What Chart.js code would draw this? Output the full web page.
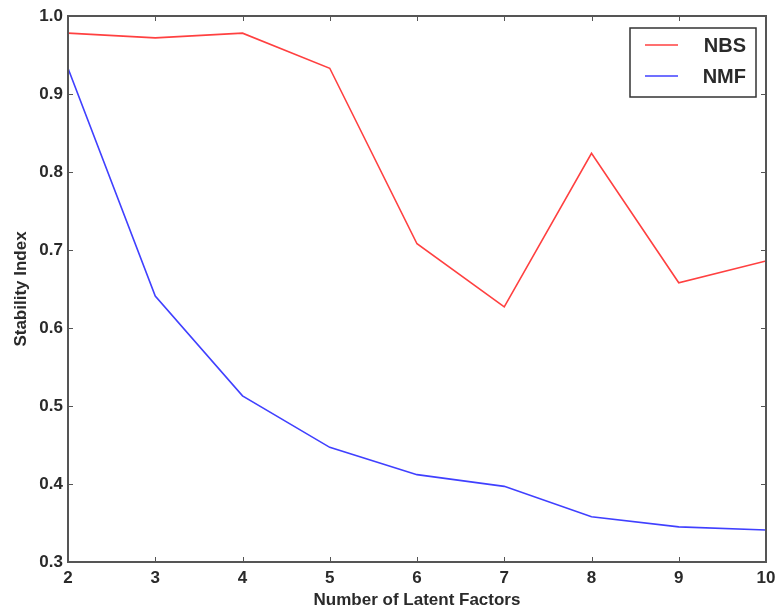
<!DOCTYPE html>
<html>
<head>
<meta charset="utf-8">
<script src="https://cdn.jsdelivr.net/npm/chart.js@4.4.1/dist/chart.umd.min.js"></script>
<style>
html,body{margin:0;padding:0;background:#fff;}
#wrap{width:783px;height:616px;position:relative;}
</style>
</head>
<body>
<div id="wrap"><canvas id="c" width="783" height="616"></canvas></div>
<script>
const factors = [2, 3, 4, 5, 6, 7, 8, 9, 10];
const nbsValues = [0.978, 0.972, 0.978, 0.933, 0.708, 0.627, 0.824, 0.658, 0.686];
const nmfValues = [0.933, 0.641, 0.513, 0.447, 0.412, 0.397, 0.358, 0.345, 0.341];
const yTicks = [0.3, 0.4, 0.5, 0.6, 0.7, 0.8, 0.9, 1.0];
const seriesNames = ['NBS', 'NMF'];

const FONT = 'Liberation Sans, Arial, Helvetica, sans-serif';
const AXIS_COLOR = '#555555';
const TEXT_COLOR = '#2a2a2a';

const frameTicks = {
  id: 'frameTicks',
  afterDraw(chart) {
    const {ctx, chartArea: a, scales} = chart;
    ctx.save();
    ctx.strokeStyle = AXIS_COLOR;
    ctx.lineWidth = 2;
    ctx.strokeRect(a.left, a.top, a.right - a.left, a.bottom - a.top);
    ctx.lineWidth = 1;
    const L = 5;
    ctx.beginPath();
    factors.forEach(v => {
      const x = Math.round(scales.x.getPixelForValue(v)) + 0.5;
      ctx.moveTo(x, a.bottom); ctx.lineTo(x, a.bottom - L);
      ctx.moveTo(x, a.top); ctx.lineTo(x, a.top + L);
    });
    yTicks.forEach(v => {
      const y = Math.round(scales.y.getPixelForValue(v)) + 0.5;
      ctx.moveTo(a.left, y); ctx.lineTo(a.left + L, y);
      ctx.moveTo(a.right, y); ctx.lineTo(a.right - L, y);
    });
    ctx.stroke();

    // legend box inside plot
    const bx = 630, by = 28, bw = 126, bh = 69;
    ctx.fillStyle = '#fff';
    ctx.fillRect(bx, by, bw, bh);
    ctx.strokeStyle = '#333';
    ctx.lineWidth = 1.5;
    ctx.strokeRect(bx, by, bw, bh);
    chart.data.datasets.forEach((ds, i) => {
      const yy = by + 17 + i * 31;
      ctx.strokeStyle = ds.borderColor;
      ctx.lineWidth = 1.6;
      ctx.beginPath();
      ctx.moveTo(bx + 15, yy); ctx.lineTo(bx + 48, yy);
      ctx.stroke();
      ctx.fillStyle = TEXT_COLOR;
      ctx.font = 'bold 20px ' + FONT;
      ctx.textAlign = 'right';
      ctx.textBaseline = 'middle';
      ctx.fillText(ds.label, bx + bw - 10, yy + 1);
    });
    ctx.restore();
  }
};

new Chart(document.getElementById('c'), {
  type: 'line',
  data: {
    datasets: [
      { label: seriesNames[0], data: factors.map((f, i) => ({x: f, y: nbsValues[i]})),
        borderColor: '#ff4040', borderWidth: 1.6, pointRadius: 0, tension: 0, fill: false },
      { label: seriesNames[1], data: factors.map((f, i) => ({x: f, y: nmfValues[i]})),
        borderColor: '#4040ff', borderWidth: 1.6, pointRadius: 0, tension: 0, fill: false }
    ]
  },
  options: {
    responsive: false,
    animation: false,
    layout: { padding: { top: 16, right: 17, left: 0, bottom: 0 } },
    plugins: { legend: { display: false }, tooltip: { enabled: false } },
    scales: {
      x: {
        type: 'linear', min: 2, max: 10,
        afterBuildTicks(s) { s.ticks = factors.map(v => ({value: v})); },
        afterFit(s) { s.height = 54; },
        grid: { display: false, drawTicks: false },
        border: { display: false },
        ticks: { color: TEXT_COLOR, font: { family: FONT, size: 17, weight: 'bold' }, padding: 6, maxRotation: 0,
                 callback: v => String(v) },
        title: { display: true, text: 'Number of Latent Factors', color: TEXT_COLOR,
                 font: { family: FONT, size: 17, weight: 'bold' }, padding: { top: 0, bottom: 5 } }
      },
      y: {
        type: 'linear', min: 0.3, max: 1.0,
        afterBuildTicks(s) { s.ticks = yTicks.map(v => ({value: v})); },
        afterFit(s) { s.width = 68; },
        grid: { display: false, drawTicks: false },
        border: { display: false },
        ticks: { color: TEXT_COLOR, font: { family: FONT, size: 17, weight: 'bold' }, padding: 5,
                 callback: v => v.toFixed(1) },
        title: { display: true, text: 'Stability Index', color: TEXT_COLOR,
                 font: { family: FONT, size: 17, weight: 'bold' }, padding: { top: 11, bottom: 0 } }
      }
    }
  },
  plugins: [frameTicks]
});
</script>
</body>
</html>
